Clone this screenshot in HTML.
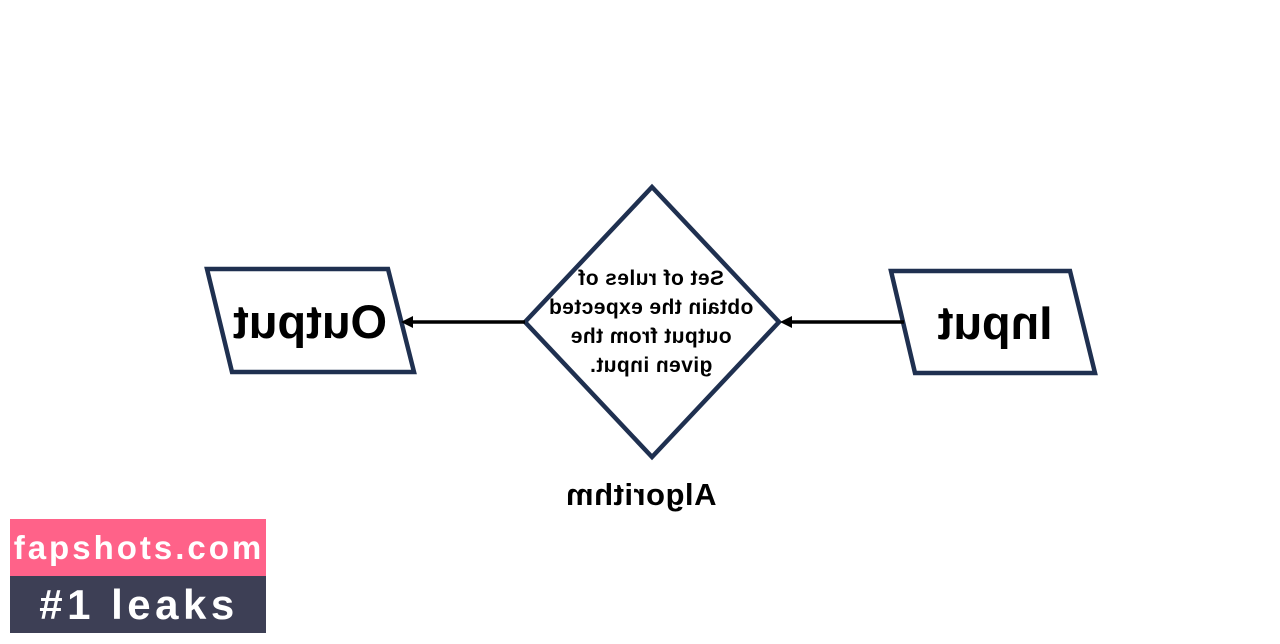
<!DOCTYPE html>
<html><head><style>
html,body{margin:0;padding:0;background:#fff;width:1280px;height:644px;overflow:hidden}
</style></head><body>
<svg width="1280" height="644" viewBox="0 0 1280 644" xmlns="http://www.w3.org/2000/svg" font-family="Liberation Sans, sans-serif" font-weight="bold">
<rect width="1280" height="644" fill="#fff"/>
<g fill="none" stroke="#1f3050" stroke-width="4.5" stroke-linejoin="miter">
<polygon points="652,187 779,322 652,457 525,322"/>
<polygon points="207,269 388,269 414,372 232,372"/>
<polygon points="891,271 1070,271 1095,373 915,373"/>
</g>
<g stroke="#000" stroke-width="3.5">
<line x1="904" y1="322" x2="790" y2="322"/>
<line x1="525" y1="322" x2="410" y2="322"/>
</g>
<polygon points="780,322 792,316 792,328" fill="#000"/>
<polygon points="401,322 413,316 413,328" fill="#000"/>
<g fill="#000" text-anchor="middle">
<text transform="translate(310,0) scale(-1,1)" x="0" y="338" font-size="47">Output</text>
<text transform="translate(995,0) scale(-1,1)" x="0" y="339" font-size="47">Input</text>
<g font-size="21" letter-spacing="0.4">
<text transform="translate(651,0) scale(-1,1)" x="0" y="285">Set of rules of</text>
<text transform="translate(651,0) scale(-1,1)" x="0" y="314">obtain the expected</text>
<text transform="translate(651,0) scale(-1,1)" x="0" y="343">output from the</text>
<text transform="translate(651,0) scale(-1,1)" x="0" y="372">given input.</text>
</g>
<text transform="translate(641,0) scale(-1,1)" x="0" y="505" font-size="31" letter-spacing="0.5">Algorithm</text>
</g>
<rect x="10" y="519" width="256" height="57" fill="#ff6289"/>
<rect x="10" y="576" width="256" height="57" fill="#3d3f55"/>
<text x="139" y="559" text-anchor="middle" fill="#fff" font-size="33" letter-spacing="3">fapshots.com</text>
<text x="139" y="619" text-anchor="middle" fill="#fff" font-size="42" letter-spacing="4.5">#1 leaks</text>
</svg>
</body></html>
